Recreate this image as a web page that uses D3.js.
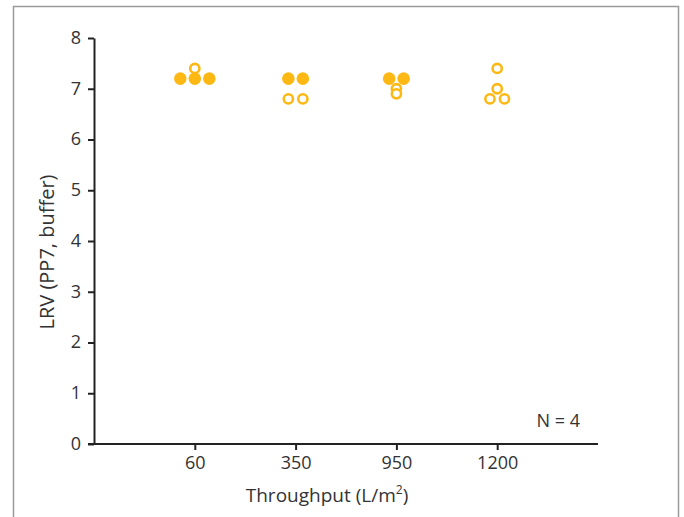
<!DOCTYPE html>
<html><head><meta charset="utf-8">
<script src="https://cdn.jsdelivr.net/npm/d3@7"></script>
<style>body{margin:0;background:#fff}svg{display:block}text{font-family:"Open Sans",sans-serif;fill:#333}</style>
</head><body>
<svg id="c" width="684" height="517"></svg>
<script>
const categories = ["60", "350", "950", "1200"];
const yTicks = [0,1,2,3,4,5,6,7,8];
// filled markers (per category) and open markers (per category)
const filledValues = [[7.2,7.2,7.2],[7.2,7.2],[7.2,7.2],[]];
const openValues = [[7.4],[6.8,6.8],[7.0,6.9],[7.4,7.0,6.8,6.8]];
const nLabel = "N = 4";

(function(){
const svg = d3.select("#c");
const color = "#FDB813";
svg.append("path").attr("d","M13.5,517V6.5H678.5V517").attr("fill","none").attr("stroke","#9a9a9a").attr("stroke-width",1.5);

const mL=94, mR=598, mT=38, mB=444;
const x = d3.scalePoint().domain(categories).range([mL,mR]).padding(1);
const y = d3.scaleLinear().domain([0,8]).range([mB,mT]);

const gx = svg.append("g").attr("transform",`translate(0,${mB})`).call(d3.axisBottom(x).tickSize(6).tickPadding(6).tickSizeOuter(0));
const gy = svg.append("g").attr("transform",`translate(${mL},0)`).call(d3.axisLeft(y).tickValues(yTicks).tickSize(6).tickPadding(7).tickSizeOuter(0));
[gx,gy].forEach(g=>{
  g.select(".domain").attr("stroke","#222").attr("stroke-width",2);
  g.selectAll(".tick line").attr("stroke","#222").attr("stroke-width",2);
  g.selectAll("text").attr("font-size",18).attr("fill","#333").attr("font-family","'Open Sans',sans-serif");
});
gy.selectAll("text").attr("dy","0.3em");
gx.select(".domain").attr("d",`M${mL-6},0H${mR}`);

const spacing = 14.5;
const pts = [];
categories.forEach((c,i)=>{
  [[filledValues[i],true],[openValues[i],false]].forEach(([vals,filled])=>{
    const groups = d3.group(vals, v=>v);
    groups.forEach((arr,v)=>{
      arr.forEach((vv,k)=>pts.push({c, v, filled, dx:(k-(arr.length-1)/2)*spacing}));
    });
  });
});
svg.append("g").selectAll("circle").data(pts).join("circle")
  .attr("cx",d=>x(d.c)+d.dx).attr("cy",d=>y(d.v))
  .attr("r",d=>d.filled?6.3:4.6)
  .attr("fill",d=>d.filled?color:"#fff")
  .attr("stroke",color).attr("stroke-width",d=>d.filled?0:2.6);

svg.append("text").attr("x",(mL+mR)/2-19).attr("y",502).attr("text-anchor","middle").attr("font-size",19)
  .html('Throughput (L/m<tspan baseline-shift="super" font-size="12">2</tspan>)');
svg.append("text").attr("transform",`translate(54,252) rotate(-90)`).attr("text-anchor","middle").attr("font-size",20).text("LRV (PP7, buffer)");
svg.append("text").attr("x",580).attr("y",427).attr("text-anchor","end").attr("font-size",18).text(nLabel);
})();
</script>
</body></html>
